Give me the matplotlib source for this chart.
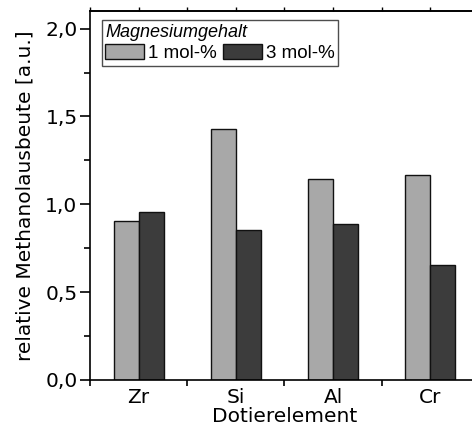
import matplotlib
matplotlib.use('Agg')
from matplotlib import pyplot as plt
from matplotlib.ticker import MultipleLocator, FixedLocator
import numpy as np

elements = ['Zr', 'Si', 'Al', 'Cr']
mg_1mol = [0.905, 1.430, 1.146, 1.165]
mg_3mol = [0.956, 0.856, 0.890, 0.657]
series_labels = ['1 mol-%', '3 mol-%']
legend_title = 'Magnesiumgehalt'

fig = plt.figure(figsize=(4.72, 4.25), dpi=100)
ax = fig.add_axes([0.1907, 0.1059, 0.824, 0.868])

x = np.arange(len(elements))
w = 0.257
ax.bar(x - w / 2, mg_1mol, w, color='#a8a8a8', edgecolor='#111111', linewidth=1.0, label=series_labels[0])
ax.bar(x + w / 2, mg_3mol, w, color='#3c3c3c', edgecolor='#111111', linewidth=1.0, label=series_labels[1])

ax.set_xlim(-0.5, 3.5)
ax.set_ylim(0, 2.1)

ax.yaxis.set_minor_locator(MultipleLocator(0.25))
yt = [0, 0.5, 1.0, 1.5, 2.0]
ax.set_yticks(yt)
ax.set_yticklabels(['{:.1f}'.format(v).replace('.', ',') for v in yt], fontsize=14.5)

# category labels sit between boundary ticks
ax.set_xticks(x)
ax.set_xticklabels(elements, fontsize=14.5)
ax.xaxis.set_minor_locator(FixedLocator(np.arange(-0.5, 4.0, 1.0)))
ax.tick_params(axis='x', which='major', length=0, pad=6)
ax.tick_params(axis='x', which='minor', length=4, width=1.2, direction='out')
ax.tick_params(axis='y', which='major', length=7, width=1.2, direction='out', pad=2)
ax.tick_params(axis='y', which='minor', length=4, width=1.2, direction='out')

# ticks on the top spine
top = ax.secondary_xaxis('top')
top.set_xticks(np.arange(-0.5, 4.0, 0.5))
top.set_xticklabels([])
top.tick_params(length=3, width=1.0, direction='out')
top.spines['top'].set_linewidth(1.2)

ax.spines['right'].set_visible(False)
for s in ['left', 'bottom', 'top']:
    ax.spines[s].set_linewidth(1.2)

ax.set_ylabel('relative Methanolausbeute [a.u.]', fontsize=14.5, labelpad=8)
ax.set_xlabel('Dotierelement', fontsize=14.5, labelpad=0)

leg = ax.legend(loc='upper left', bbox_to_anchor=(0.03, 0.975), ncol=2, title=legend_title,
                frameon=True, fancybox=False, borderpad=0.2, labelspacing=0.15,
                handlelength=2.05, handleheight=0.85, handletextpad=0.22,
                columnspacing=0.35, borderaxespad=0.0,
                prop={'family': 'Liberation Sans', 'size': 13.5})
leg.get_title().set_fontfamily('Liberation Sans')
leg.get_title().set_fontstyle('italic')
leg.get_title().set_fontsize(13)
leg._legend_box.align = 'left'
leg.get_frame().set_edgecolor('#222222')
leg.get_frame().set_linewidth(1.0)

fig.savefig('out.png', dpi=100)
